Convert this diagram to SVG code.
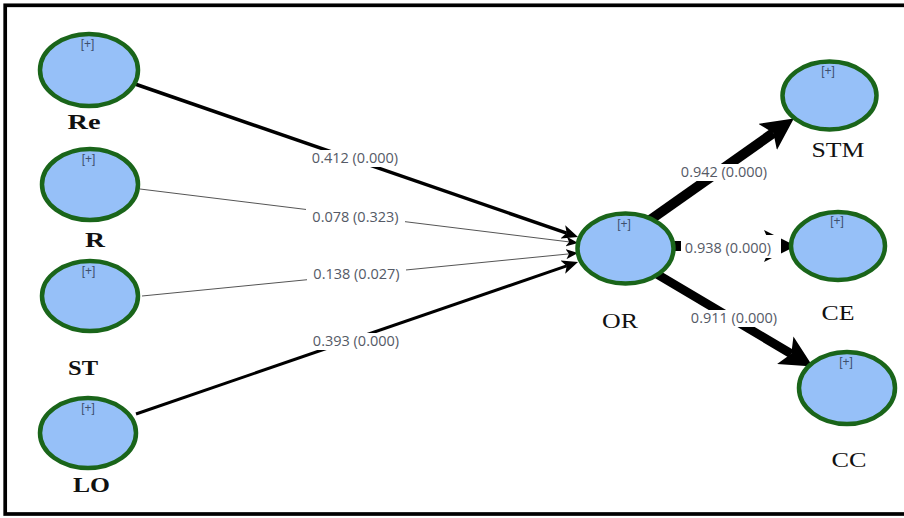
<svg xmlns="http://www.w3.org/2000/svg" width="904" height="518" viewBox="0 0 904 518">
<style>
.node ellipse{fill:#96c0f8;stroke:#1a651a;stroke-width:4.5}
.plus{font-family:"Liberation Sans",Arial,sans-serif;font-size:12px;fill:#3d4f6e;text-anchor:middle}
.nl{font-family:"Liberation Serif","Times New Roman",serif;font-size:21px;fill:#111;text-anchor:middle}
.nb{font-weight:bold}
.el{font-family:"Open Sans","Noto Sans",sans-serif;font-size:14.5px;fill:#555a66;text-anchor:middle}
.bg{fill:#fff}
.thin{stroke:#555;stroke-width:1;fill:none}
.mid{stroke:#000;stroke-width:3.5;fill:none}
.big{stroke:#000;stroke-width:10;fill:none}
</style>
<defs>
<marker id="mS" markerUnits="userSpaceOnUse" markerWidth="12" markerHeight="10" refX="3" refY="5" orient="auto" viewBox="0 0 12 10"><path d="M0,0 L12,5 L0,10 L3,5 z" fill="#000"/></marker>
<marker id="mM" markerUnits="userSpaceOnUse" markerWidth="16" markerHeight="14" refX="4" refY="7" orient="auto" viewBox="0 0 16 14"><path d="M0,0 L16,7 L0,14 L4,7 z" fill="#000"/></marker>
<marker id="mL" markerUnits="userSpaceOnUse" markerWidth="32" markerHeight="32" refX="7" refY="16" orient="auto" viewBox="0 0 32 32"><path d="M0,0 L32,16 L0,32 L7,16 z" fill="#000"/></marker>
</defs>
<rect x="5.2" y="5.3" width="910" height="508.7" fill="#fff" stroke="#000" stroke-width="3.7"/>
<g id="connectors">
<line class="mid" x1="135" y1="84" x2="566.7" y2="233.1" marker-end="url(#mM)"/>
<line class="thin" x1="140" y1="189" x2="569.1" y2="241.9" marker-end="url(#mS)"/>
<line class="thin" x1="142" y1="296" x2="569" y2="253.9" marker-end="url(#mS)"/>
<line class="mid" x1="136" y1="414" x2="566.7" y2="265.9" style="stroke-width:3" marker-end="url(#mM)"/>
<line class="big" x1="650" y1="220" x2="773.4" y2="132.9" marker-end="url(#mL)"/>
<line class="big" x1="665" y1="246" x2="771" y2="246" marker-end="url(#mL)"/>
<line class="big" x1="655" y1="273" x2="791.3" y2="353.8" style="stroke-width:9" marker-end="url(#mL)"/>
<rect class="bg" x="306" y="150" width="98" height="17"/>
<text class="el" x="355" y="163">0.412 (0.000)</text>
<rect class="bg" x="306" y="209" width="99" height="17"/>
<text class="el" x="355.5" y="222">0.078 (0.323)</text>
<rect class="bg" x="307" y="266" width="99" height="17"/>
<text class="el" x="356.5" y="279">0.138 (0.027)</text>
<rect class="bg" x="307" y="333" width="99" height="17"/>
<text class="el" x="356" y="346">0.393 (0.000)</text>
<rect class="bg" x="675" y="164" width="99" height="17"/>
<text class="el" x="724" y="177">0.942 (0.000)</text>
<rect class="bg" x="681" y="235" width="100" height="23"/>
<text class="el" x="728" y="252.5">0.938 (0.000)</text>
<rect class="bg" x="685" y="310" width="99" height="17"/>
<text class="el" x="734" y="323">0.911 (0.000)</text>
</g>
<g id="Re" class="node"><ellipse cx="89" cy="70" rx="49" ry="36"/><text class="plus" x="87.5" y="48">[+]</text><text class="nl nb" x="84" y="129" textLength="33" lengthAdjust="spacingAndGlyphs">Re</text></g>
<g id="R" class="node"><ellipse cx="90" cy="184.5" rx="48" ry="35.5"/><text class="plus" x="88.5" y="163">[+]</text><text class="nl nb" x="95" y="247" textLength="20" lengthAdjust="spacingAndGlyphs">R</text></g>
<g id="ST" class="node"><ellipse cx="90" cy="296" rx="48" ry="35"/><text class="plus" x="88.5" y="275">[+]</text><text class="nl nb" x="83" y="375" textLength="30" lengthAdjust="spacingAndGlyphs">ST</text></g>
<g id="LO" class="node"><ellipse cx="88" cy="433" rx="48" ry="35"/><text class="plus" x="88" y="412">[+]</text><text class="nl nb" x="91.5" y="492" textLength="37" lengthAdjust="spacingAndGlyphs">LO</text></g>
<g id="OR" class="node"><ellipse cx="625.5" cy="248.5" rx="48" ry="35"/><text class="plus" x="624" y="228">[+]</text><text class="nl" x="620" y="328" textLength="36" lengthAdjust="spacingAndGlyphs">OR</text></g>
<g id="STM" class="node"><ellipse cx="829.5" cy="95.5" rx="47" ry="34"/><text class="plus" x="828" y="75">[+]</text><text class="nl" x="838" y="157" textLength="53" lengthAdjust="spacingAndGlyphs">STM</text></g>
<g id="CE" class="node"><ellipse cx="838" cy="246" rx="47" ry="34"/><text class="plus" x="837" y="225">[+]</text><text class="nl" x="838" y="320" textLength="33" lengthAdjust="spacingAndGlyphs">CE</text></g>
<g id="CC" class="node"><ellipse cx="847" cy="388" rx="48" ry="36"/><text class="plus" x="846" y="366">[+]</text><text class="nl" x="849" y="467" textLength="35" lengthAdjust="spacingAndGlyphs">CC</text></g>
</svg>
